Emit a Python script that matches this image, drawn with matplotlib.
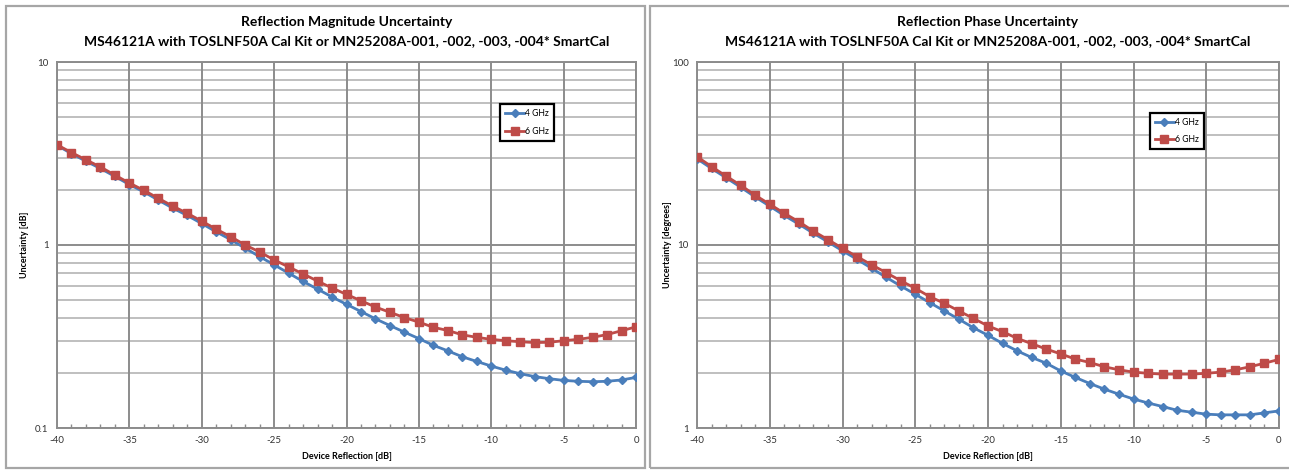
import matplotlib
matplotlib.use("Agg")
import matplotlib.pyplot as plt
from matplotlib.patches import Rectangle
from matplotlib.ticker import FixedLocator, NullFormatter, NullLocator

plt.rcParams['font.family'] = ['Lato', 'DejaVu Sans']

reflection_db = list(range(-40, 1))

mag_4ghz = [3.50, 3.16, 2.87, 2.62, 2.37, 2.14, 1.95, 1.76, 1.59, 1.45,
            1.31, 1.18, 1.07, 0.96, 0.864, 0.779, 0.702, 0.632, 0.574, 0.520,
            0.474, 0.433, 0.395, 0.363, 0.334, 0.308, 0.283, 0.264, 0.245, 0.231,
            0.218, 0.207, 0.198, 0.191, 0.186, 0.182, 0.180, 0.179, 0.180, 0.183,
            0.189]
mag_6ghz = [3.53, 3.20, 2.92, 2.67, 2.41, 2.18, 1.99, 1.80, 1.63, 1.49,
            1.35, 1.22, 1.11, 1.00, 0.916, 0.829, 0.759, 0.695, 0.635, 0.582,
            0.537, 0.496, 0.458, 0.429, 0.401, 0.379, 0.355, 0.341, 0.323, 0.313,
            0.305, 0.300, 0.296, 0.293, 0.294, 0.300, 0.305, 0.313, 0.324, 0.340,
            0.357]

phase_4ghz = [29.6, 26.2, 23.3, 20.7, 18.3, 16.3, 14.5, 13.0, 11.6, 10.4,
              9.30, 8.35, 7.46, 6.66, 5.97, 5.38, 4.84, 4.36, 3.93, 3.53,
              3.21, 2.90, 2.64, 2.43, 2.26, 2.05, 1.89, 1.75, 1.63, 1.53,
              1.44, 1.37, 1.31, 1.25, 1.22, 1.19, 1.18, 1.18, 1.18, 1.21,
              1.24]
phase_6ghz = [30.4, 26.8, 23.8, 21.2, 18.7, 16.7, 14.9, 13.4, 11.9, 10.7,
              9.59, 8.63, 7.80, 7.06, 6.38, 5.80, 5.22, 4.80, 4.36, 3.97,
              3.61, 3.36, 3.09, 2.89, 2.70, 2.54, 2.38, 2.28, 2.16, 2.08,
              2.02, 1.99, 1.97, 1.97, 1.97, 1.99, 2.02, 2.08, 2.16, 2.26,
              2.37]

series_labels = ["4 GHz", "6 GHz"]
x_ticks = [-40, -35, -30, -25, -20, -15, -10, -5, 0]
title_line1 = ["Reflection Magnitude Uncertainty", "Reflection Phase Uncertainty"]
title_line2 = "MS46121A with TOSLNF50A Cal Kit or MN25208A-001, -002, -003, -004* SmartCal"
y_labels = ["Uncertainty [dB]", "Uncertainty [degrees]"]
x_label = "Device Reflection [dB]"

BLUE = "#4a7ebb"
RED = "#be4b48"

W, H = 1289, 470
fig = plt.figure(figsize=(W / 100, H / 100), dpi=100)

# panel borders
for (x0, x1) in [(6, 645), (650, 1296)]:
    fig.patches.append(Rectangle((x0 / W, 1 - 468 / H), (x1 - x0) / W, (468 - 6) / H,
                                 transform=fig.transFigure, fill=False,
                                 edgecolor="#a6a6a6", linewidth=1.6))


def make_axes(left_px, right_px, ylo, yhi, s4, s6, ylabel, t1, legend_xy, ylabel_x):
    top_px, bot_px = 62, 428
    ax = fig.add_axes([left_px / W, 1 - bot_px / H, (right_px - left_px) / W, (bot_px - top_px) / H])
    ax.set_yscale("log")
    ax.set_xlim(-40, 0)
    ax.set_ylim(ylo, yhi)
    decades = []
    d = ylo
    while d <= yhi * 1.0001:
        decades.append(d)
        d *= 10
    minors = []
    for dd in decades[:-1]:
        for k in range(2, 10):
            minors.append(dd * k)
    for m in minors:
        ax.axhline(m, color="#bfbfbf", linewidth=1.4, zorder=0)
    for dd in decades:
        ax.axhline(dd, color="#8c8c8c", linewidth=1.4, zorder=0)
    for xv in x_ticks:
        ax.axvline(xv, color="#8c8c8c", linewidth=1.4, zorder=0)
    ax.yaxis.set_major_locator(FixedLocator(decades))
    ax.yaxis.set_minor_locator(NullLocator())
    ax.set_yticklabels([("%g" % v) for v in decades])
    ax.xaxis.set_major_locator(FixedLocator(x_ticks))
    ax.xaxis.set_minor_locator(FixedLocator(reflection_db))
    ax.xaxis.set_minor_formatter(NullFormatter())
    ax.set_xticklabels([str(v) for v in x_ticks])
    ax.tick_params(axis="both", which="major", length=0, labelsize=7, colors="#333333", pad=6)
    ax.tick_params(axis="x", which="minor", length=3, direction="in", color="#8c8c8c", width=1)
    for sp in ax.spines.values():
        sp.set_color("#8c8c8c")
        sp.set_linewidth(1.4)
    ax.plot(reflection_db, s4, color=BLUE, linewidth=2, marker="D", markersize=4,
            label=series_labels[0], zorder=3)
    ax.plot(reflection_db, s6, color=RED, linewidth=2, marker="s", markersize=6,
            label=series_labels[1], zorder=4)
    leg = ax.legend(loc="upper left", bbox_to_anchor=legend_xy, fontsize=6.2,
                    frameon=True, fancybox=False, edgecolor="black", framealpha=1,
                    handlelength=2.2, handletextpad=0.1, borderpad=0.6, labelspacing=1.0,
                    borderaxespad=0)
    leg.get_frame().set_linewidth(1.6)
    ax.set_xlabel(x_label, fontsize=6.5, fontweight="bold", labelpad=5)
    ax.text(ylabel_x / W, 1 - 245 / H, ylabel, transform=fig.transFigure, rotation=90,
            fontsize=6.5, fontweight="bold", ha="center", va="center")
    cx = (left_px + right_px) / 2 / W
    fig.text(cx, 1 - 22 / H, t1, fontsize=10, fontweight="bold", ha="center", va="center")
    fig.text(cx, 1 - 41 / H, title_line2, fontsize=10, fontweight="bold", ha="center", va="center")
    return ax


make_axes(57, 636, 0.1, 10, mag_4ghz, mag_6ghz, y_labels[0], title_line1[0], (0.765, 0.885), 25)
make_axes(697, 1279, 1, 100, phase_4ghz, phase_6ghz, y_labels[1], title_line1[1], (0.778, 0.862), 667)

fig.savefig("out.png", dpi=100)
